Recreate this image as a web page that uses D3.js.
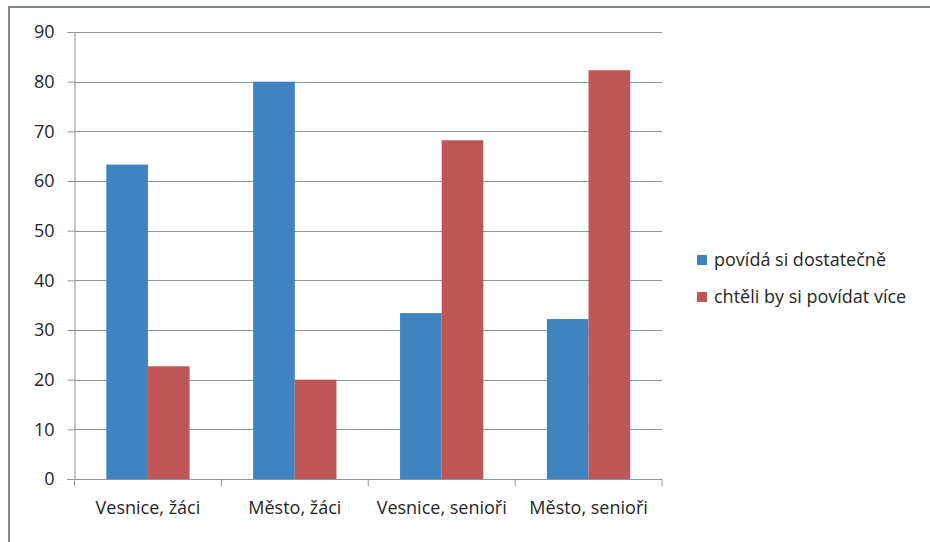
<!DOCTYPE html>
<html><head><meta charset="utf-8">
<script src="https://cdn.jsdelivr.net/npm/d3@7"></script>
<style>html,body{margin:0;padding:0;background:#fff;}svg{display:block;}</style>
</head><body>
<svg id="c" width="930" height="542"></svg>
<script>
const categories = ["Vesnice, žáci", "Město, žáci", "Vesnice, senioři", "Město, senioři"];
const seriesNames = ["povídá si dostatečně", "chtěli by si povídat více"];
const seriesDostatecne = [63.3, 80.0, 33.4, 32.2];
const seriesVice = [22.7, 20.0, 68.2, 82.3];
const yTicks = [0, 10, 20, 30, 40, 50, 60, 70, 80, 90];
const colors = ["#4083C1", "#BE5658"];

const svg = d3.select("#c");
const font = "'Open Sans', sans-serif";
const fs = 18;
const textColor = "#262626";

// outer frame
svg.append("path").attr("d", "M9,542 V7 H930").attr("fill", "none")
  .attr("stroke", "#7E8789").attr("stroke-width", 2);

const L = 74.5, R = 662, T = 32, B = 479;
const x = d3.scaleBand().domain(categories).range([L, R]).paddingInner(0).paddingOuter(0);
const y = d3.scaleLinear().domain([0, 90]).range([B, T]);

// gridlines
svg.append("g").selectAll("line").data(yTicks.filter(d => d > 0)).join("line")
  .attr("x1", L).attr("x2", R).attr("y1", d => Math.round(y(d)) + 0.5).attr("y2", d => Math.round(y(d)) + 0.5)
  .attr("stroke", "#8C979A").attr("stroke-width", 1);

// bars
const data = [seriesDostatecne, seriesVice];
const inner = 31.8;
const bw = (x.bandwidth() - 2 * inner) / 2;
data.forEach((vals, si) => {
  svg.append("g").selectAll("rect").data(vals).join("rect")
    .attr("x", (d, i) => x(categories[i]) + inner + si * bw)
    .attr("width", bw)
    .attr("y", d => y(d))
    .attr("height", d => y(0) - y(d))
    .attr("fill", colors[si]);
});

// y axis
const yAxis = d3.axisLeft(y).tickValues(yTicks).tickSize(7).tickPadding(13);
const gy = svg.append("g").attr("transform", `translate(${L},0)`).call(yAxis);
gy.select(".domain").attr("stroke", "#8C979A");
gy.selectAll(".tick line").attr("stroke", "#8C979A");
gy.selectAll("text").attr("font-family", font).attr("font-size", fs).attr("fill", textColor);

// x axis
const gx = svg.append("g").attr("transform", `translate(0,${B})`);
gx.append("line").attr("x1", L - 7).attr("x2", R).attr("y1", 0.5).attr("y2", 0.5).attr("stroke", "#8C979A");
const tickXs = categories.map(c => x(c)).concat([R]);
gx.selectAll("line.t").data(tickXs).join("line").attr("class", "t")
  .attr("x1", d => d).attr("x2", d => d).attr("y1", 0).attr("y2", 7).attr("stroke", "#8C979A");
gx.selectAll("text").data(categories).join("text")
  .attr("x", d => x(d) + x.bandwidth() / 2).attr("y", 35)
  .attr("text-anchor", "middle").attr("font-family", font).attr("font-size", fs).attr("fill", textColor)
  .text(d => d);

// legend
const lg = svg.append("g");
seriesNames.forEach((n, i) => {
  const yy = 260 + i * 37;
  lg.append("rect").attr("x", 697).attr("y", yy - 5).attr("width", 10).attr("height", 10).attr("fill", colors[i]);
  lg.append("text").attr("x", 714).attr("y", yy + 6).attr("font-family", font).attr("font-size", fs)
    .attr("fill", textColor).text(n);
});
</script>
</body></html>
